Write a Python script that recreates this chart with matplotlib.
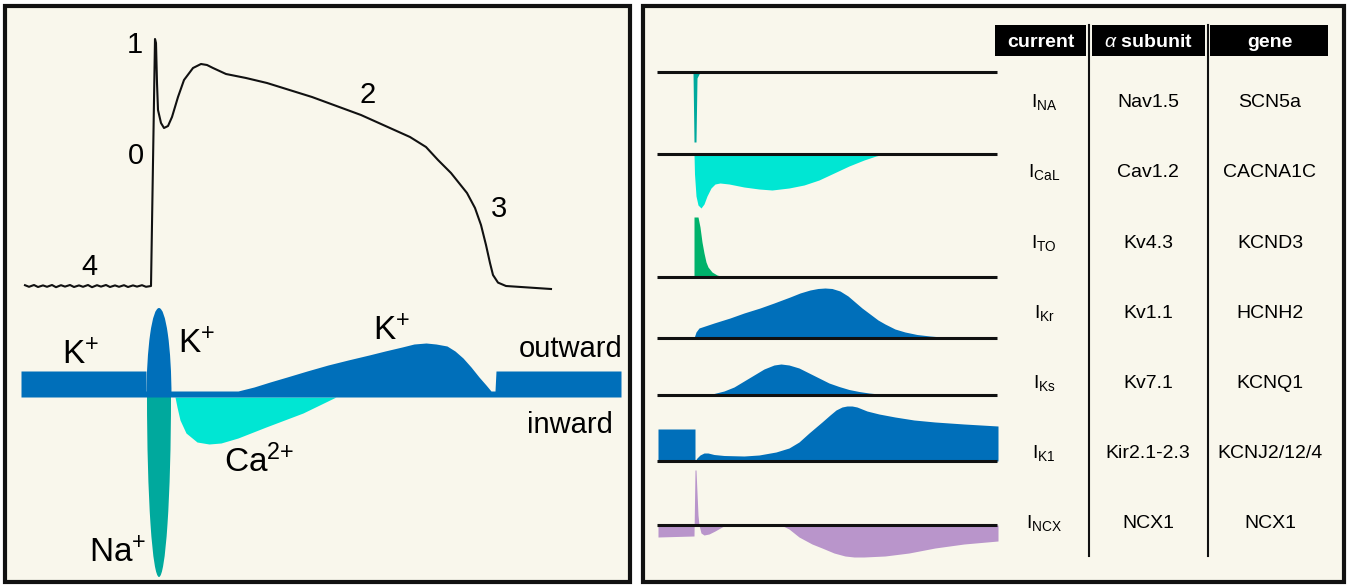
import matplotlib
matplotlib.use('Agg')
import matplotlib.pyplot as plt
from matplotlib.patches import Rectangle, Ellipse

plt.rcParams['font.family'] = ['Liberation Sans', 'DejaVu Sans']
plt.rcParams['mathtext.fontset'] = 'custom'
plt.rcParams['mathtext.rm'] = 'Liberation Sans'
plt.rcParams['mathtext.it'] = 'Liberation Sans:italic'
plt.rcParams['mathtext.bf'] = 'Liberation Sans:bold'

W, H = 1349, 585
CREAM = '#f9f7ec'
BLUE = '#006fba'
TEAL = '#00a99d'
CYAN = '#00e6d3'
GREEN = '#00b26b'
PURPLE = '#b995cb'
INK = '#111111'

# ---- action potential (ms, mV) ----
ap_t = [-127, -123, -118, -114, -109, -105, -100, -96, -91, -87, -82, -78, -73, -69,
        -64, -60, -55, -51, -46, -42, -37, -33, -28, -24, -19, -15, -10, -6, -1,
        3, 4, 5, 6, 9, 12, 16, 20, 26, 32, 41, 49, 55, 61, 74, 94, 115, 160, 209,
        258, 274, 286, 299, 307, 315, 323, 329, 334, 338, 341, 346, 354, 399]
ap_v = [-84.6, -85.4, -84.5, -85.5, -84.7, -85.4, -84.5, -85.6, -84.6, -85.3, -84.5, -85.5, -84.7, -85.4,
        -84.5, -85.6, -84.6, -85.3, -84.5, -85.5, -84.7, -85.4, -84.6, -85.5, -84.7, -85.3, -84.6, -85.4, -85.0,
        38.5, 36.5, 16.5, 3, -3.5, -6, -5, -0.5, 9.5, 18, 24, 26, 25.5, 24, 21, 19, 16.5, 9.5, 0.5,
        -10.5, -15.5, -22, -28.5, -33.5, -38.5, -46, -54.5, -64.5, -73.5, -79.5, -83.3, -85, -86.5]
phase_labels = ['1', '0', '2', '3', '4']
phase_t = [-17, -16, 216, 347, -63]
phase_v = [31.5, -24, 6.5, -50.5, -79.5]

# ---- summed ionic currents (outward +) ----
k_out_t = [-131, -6, -6, 86, 102, 118, 135, 155, 176, 196, 217, 233, 250, 262, 274,
           284, 295, 303, 311, 319, 327, 334, 339, 343, 344, 469]
k_out_i = [26, 26, 6, 6, 10, 15, 20, 26, 32, 37, 42, 46, 50, 53, 54,
           53, 51, 46, 39, 30, 20, 12, 6, 6, 26, 26]
ca_in_t = [23, 25, 28, 34, 45, 57, 69, 86, 114, 151, 184]
ca_in_i = [0, -10, -23, -36, -45, -47, -46, -41, -30, -16, 0]
ito_peak, na_peak = 89, -180
spike_t, spike_width = 7, 25
ion_labels = ['K$^{+}$', 'K$^{+}$', 'K$^{+}$', 'Ca$^{2{+}}$', 'Na$^{+}$']
ion_t = [-71, 45, 240, 107, -34]
ion_i = [33, 44, 57, -75, -165]

# ---- individual currents (right panel) ----
ina_t = [-1, 0, 2, 3, 6]
ina_i = [0, -70, -70, -6, 0]
ical_t = [0, 0.5, 2, 4, 7, 10, 13, 17, 21, 26, 35, 50, 65, 78, 95, 110, 125, 140, 155, 170, 182, 191]
ical_i = [0, -20, -42, -51, -54, -50, -42, -34, -30, -29, -30, -33, -35, -36, -34, -31, -26, -19, -12, -6, -2, 0]
ito_t = [0, 0, 4, 6, 8, 10, 12, 14, 18, 23, 30]
ito_i = [0, 60, 60, 50, 35, 24, 15, 10, 5, 2, 0]
ikr_t = [0, 2, 5, 11, 20, 36, 50, 66, 80, 96, 106, 116, 124, 131, 138, 146, 154, 161,
         168, 176, 184, 191, 201, 211, 223, 236, 250, 264]
ikr_i = [0, 6, 10, 12, 15, 20, 25, 30, 35, 41, 45, 48, 49.5, 50, 49.5, 47, 42, 36,
         30, 24, 18, 14, 9, 6, 3.5, 2, 0.8, 0]
iks_t = [0, 10, 20, 30, 40, 50, 60, 70, 80, 87, 95, 105, 115, 125, 135, 145, 155, 165, 175, 185, 196]
iks_i = [0, 0.5, 1.5, 4, 8, 14, 20, 26, 30, 31, 30, 27, 22, 17, 12, 8.5, 5.5, 3.5, 2, 1, 0]
ik1_t = [-36, 1, 1, 3, 6, 10, 14, 20, 30, 50, 65, 82, 95, 105, 115, 128, 136, 142, 148,
         153, 158, 163, 173, 185, 201, 220, 241, 270, 304]
ik1_i = [32, 32, 0, 3, 6, 8, 8, 6.5, 5.5, 5, 6, 9, 13, 19, 28, 39, 46, 51, 54,
         55, 55, 54, 50, 47, 44, 41, 39, 37, 35]
incx_t = [-36, 0, 1, 2, 4, 5, 7, 10, 15, 21, 28, 32, 87, 95, 105, 118, 128, 140, 151, 160,
          170, 191, 215, 241, 270, 304]
incx_i = [-12, -11, 55, 55, 10, 0, -8, -10, -9, -6, -2, 0, 0, -4, -12, -19, -23, -28, -31, -32,
          -32, -31, -28, -23, -19, -16]

currents = ['NA', 'CaL', 'TO', 'Kr', 'Ks', 'K1', 'NCX']
subunits = ['Nav1.5', 'Cav1.2', 'Kv4.3', 'Kv1.1', 'Kv7.1', 'Kir2.1-2.3', 'NCX1']
genes = ['SCN5a', 'CACNA1C', 'KCND3', 'HCNH2', 'KCNQ1', 'KCNJ2/12/4', 'NCX1']
headers = ['current', r'$\alpha$ subunit', 'gene']

traces = [(ina_t, ina_i, TEAL), (ical_t, ical_i, CYAN), (ito_t, ito_i, GREEN),
          (ikr_t, ikr_i, BLUE), (iks_t, iks_i, BLUE), (ik1_t, ik1_i, BLUE),
          (incx_t, incx_i, PURPLE)]


fig = plt.figure(figsize=(W / 100, H / 100), dpi=100)
fig.patch.set_facecolor('white')


def px_axes(x0, y0, x1, y1):
    ax = fig.add_axes([x0 / W, 1 - y1 / H, (x1 - x0) / W, (y1 - y0) / H])
    ax.set_axis_off()
    ax.patch.set_alpha(0)
    return ax


# background: panel frames and table furniture (pixel layout)
bg = px_axes(0, 0, W, H)
bg.set_xlim(0, W)
bg.set_ylim(H, 0)
for x0, x1 in [(5, 630), (643, 1344)]:
    bg.add_patch(Rectangle((x0, 6), x1 - x0, 576, facecolor=CREAM, edgecolor=INK, lw=3))
col_x = [1041, 1148, 1270]
box_x = [(995, 1086), (1092, 1205), (1210, 1328)]
for (x0, x1), cx, hd in zip(box_x, col_x, headers):
    bg.add_patch(Rectangle((x0, 25), x1 - x0, 31, facecolor='black', edgecolor='none'))
    bg.text(cx, 47, hd, color='white', fontsize=14, fontweight='bold', ha='center', va='baseline')
for x in [1089, 1208]:
    bg.plot([x, x], [25, 556], color=INK, lw=1.5)
row_base = [107, 177, 248, 318, 388, 458, 528]
for yb, cur, sub, gene in zip(row_base, currents, subunits, genes):
    bg.text(col_x[0] + 3, yb, r'I$_{\mathrm{%s}}$' % cur, fontsize=14, ha='center', va='baseline')
    bg.text(col_x[1], yb, sub, fontsize=14, ha='center', va='baseline')
    bg.text(col_x[2], yb, gene, fontsize=14, ha='center', va='baseline')

# action potential
ax_ap = px_axes(0, 0, 640, 300)
ax_ap.set_xlim(-152, 488)
ax_ap.set_ylim(-92, 58)
ax_ap.plot(ap_t, ap_v, color=INK, lw=1.5)
for lab, t, v in zip(phase_labels, phase_t, phase_v):
    ax_ap.text(t, v, lab, fontsize=21, ha='center', va='baseline')

# summed currents
ax_i = px_axes(0, 300, 640, 585)
ax_i.set_xlim(-152, 488)
ax_i.set_ylim(-188, 97)
na = Ellipse((spike_t, 0), spike_width - 1, 2 * abs(na_peak), facecolor=TEAL, edgecolor='none')
ax_i.add_patch(na)
na.set_clip_path(Rectangle((-50, na_peak - 5), 100, abs(na_peak) + 5, transform=ax_i.transData))
ax_i.fill_between(ca_in_t, ca_in_i, 0, color=CYAN, lw=0)
ax_i.fill_between(k_out_t, k_out_i, 0, color=BLUE, lw=0)
ito = Ellipse((spike_t, 0), spike_width, 2 * ito_peak, facecolor=BLUE, edgecolor='none')
ax_i.add_patch(ito)
ito.set_clip_path(Rectangle((-50, 0), 100, ito_peak + 5, transform=ax_i.transData))
for lab, t, i in zip(ion_labels, ion_t, ion_i):
    ax_i.text(t, i, lab, fontsize=24, ha='center', va='baseline')
ax_i.text(419, 40, 'outward', fontsize=21, ha='center', va='baseline')
ax_i.text(418, -36, 'inward', fontsize=21, ha='center', va='baseline')

# individual currents
ax_r = px_axes(640, 0, 1000, 585)
ax_r.set_xlim(-54, 306)
ax_r.set_ylim(-585, 0)
trace_base = [72, 154, 277, 338, 395, 461, 525]
for (t, i, c), yb in zip(traces, trace_base):
    ax_r.fill_between(t, [-yb + v for v in i], -yb, color=c, lw=0)
    ax_r.plot([-37, 303], [-yb, -yb], color=INK, lw=2.2, solid_capstyle='butt')

fig.savefig('out.png', dpi=100, facecolor='white')
